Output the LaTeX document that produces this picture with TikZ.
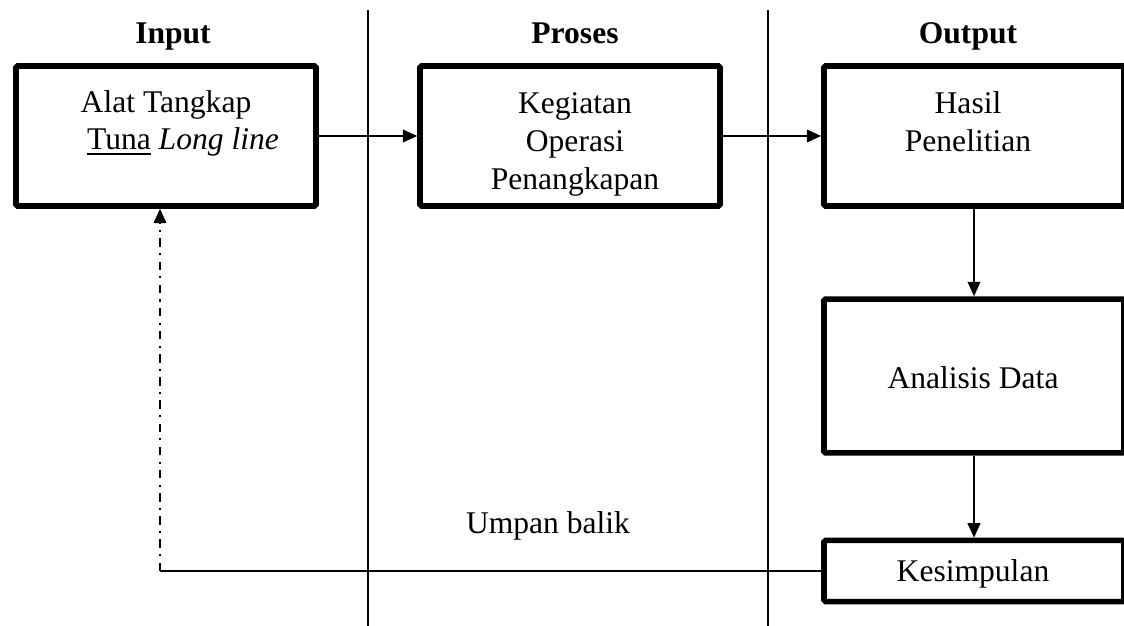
\documentclass[tikz,border=0pt]{standalone}
\usepackage{fontspec}
\setmainfont{Liberation Serif}
\usetikzlibrary{arrows.meta}
\tikzset{
	kotak/.style={draw=black, line width=2.1pt, minimum width=114pt, rounded corners=0.6pt},
	teks/.style={anchor=base, inner sep=0pt},
	panah/.style={-{Triangle[length=5.5pt,width=4.8pt]}, line width=0.75pt},
	garis/.style={line width=0.75pt}
}
\begin{document}
\begin{tikzpicture}[x=0.38pt, y=-0.38pt, font=\fontsize{12}{14.4}\selectfont]
			\useasboundingbox (0,0) rectangle (1124,626);
			% pembatas kolom
			\draw[garis] (368,10) -- (368,626);
			\draw[garis] (768,10) -- (768,626);
			% judul
			\node[teks] (input) at (173,44) {\textbf{Input}};
			\node[teks] (proses) at (575,44) {\textbf{Proses}};
			\node[teks] (output) at (968,44) {\textbf{Output}};
			% kotak
			\node[kotak, minimum height=53.2pt] (alat) at (166,136) {};
			\node[kotak, minimum height=53.2pt] (kegiatan) at (570,136) {};
			\node[kotak, minimum height=53.2pt] (hasil) at (974,136) {};
			\node[kotak, minimum height=58.5pt] (analisis) at (974,376) {};
			\node[kotak, minimum height=23.2pt] (kesimpulan) at (974,571) {};
			% teks
			\node[teks] (alat1) at (166,113) {Alat Tangkap};
			\node[teks] (alat2) at (183,150) {\underline{Tuna} \textit{Long line}};
			\node[teks] (kegiatan1) at (575,114) {Kegiatan};
			\node[teks] (kegiatan2) at (575,152) {Operasi};
			\node[teks] (kegiatan3) at (575,190) {Penangkapan};
			\node[teks] (hasil1) at (968,114) {Hasil};
			\node[teks] (hasil2) at (968,152) {Penelitian};
			\node[teks] (analisis-txt) at (973,389) {Analisis Data};
			\node[teks] (kesimpulan-txt) at (973,582) {Kesimpulan};
			\node[teks] (umpan) at (548,534) {Umpan balik};
			% panah
			\draw[panah] (alat.east) -- (kegiatan.west);
			\draw[panah] (kegiatan.east) -- (hasil.west);
			\draw[panah] (hasil.south) -- (analisis.north);
			\draw[panah] (analisis.south) -- (kesimpulan.north);
			% umpan balik
			\coordinate (belok) at (kesimpulan.west -| 160,0);
			\draw[garis] (kesimpulan.west) -- (belok);
			\draw[panah, line width=0.9pt, dash pattern=on 3.2pt off 2.4pt on 0.8pt off 2.4pt] (belok) -- (belok |- alat.south);
		\end{tikzpicture}
\end{document}
